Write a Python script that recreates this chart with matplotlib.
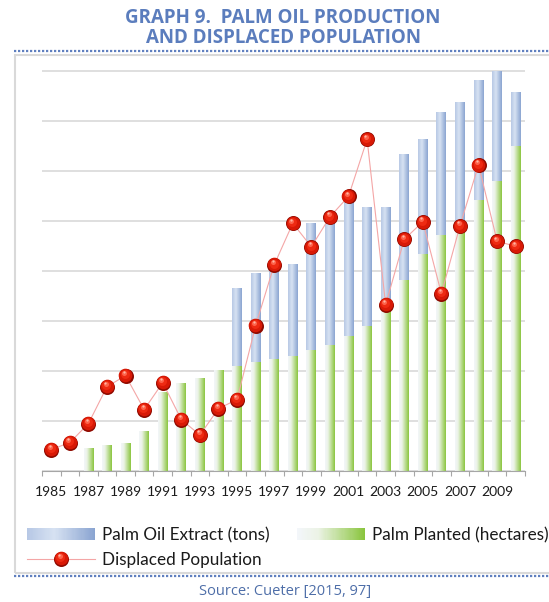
import numpy as np
import matplotlib
matplotlib.use("Agg")
import matplotlib.pyplot as plt
from matplotlib.patches import Rectangle
from matplotlib.lines import Line2D
from matplotlib.legend_handler import HandlerBase
from matplotlib.transforms import offset_copy

# ---- data ----
years = list(range(1985, 2011))
palm_oil_extract = [0, 0, 0, 0, 0, 0, 0, 0, 0, 0,
                    3.65, 3.95, 4.2, 4.13, 4.95, 5.05, 5.4, 5.27, 5.27, 6.33,
                    6.63, 7.17, 7.37, 7.81, 8.0, 7.57]
palm_planted = [0, 0, 0.45, 0.51, 0.55, 0.79, 1.57, 1.75, 1.85, 2.01,
                2.09, 2.17, 2.23, 2.29, 2.41, 2.51, 2.69, 2.90, 3.25, 3.82,
                4.33, 4.71, 4.78, 5.42, 5.79, 6.49]
displaced = [0.42, 0.56, 0.94, 1.68, 1.90, 1.22, 1.76, 1.02, 0.71, 1.24,
             1.42, 2.90, 4.12, 4.95, 4.48, 5.08, 5.49, 6.63, 3.32, 4.63,
             4.98, 3.54, 4.90, 6.12, 4.59, 4.49]
tick_years = [str(y) for y in years[::2]]

# ---- styles ----
BLUE_STOPS = [(0.0, (183, 200, 229)), (0.4, (215, 226, 242)), (1.0, (138, 164, 209))]
GREEN_STOPS = [(0.0, (243, 246, 250)), (0.3, (236, 243, 230)), (1.0, (138, 197, 62))]
LINE_COLOR = "#f4a6a6"
TITLE_COLOR = "#5b7dbd"
FRAME_COLOR = "#d9d9d9"
DOT_COLOR = "#5f7fbf"
# sphere marker layers: (diameter pt, colour, dx pt, dy pt, alpha)
SPHERE = [(10.8, "#8e0a00", 0, 0, 1.0),
          (9.8, "#d81906", -0.1, 0.2, 1.0),
          (6.5, "#ee2a12", -0.5, 0.9, 1.0),
          (3.6, "#ff6a52", -1.0, 2.0, 0.9),
          (1.6, "#ffc0b0", -1.2, 2.7, 0.9)]


def gradient_colors(stops, n):
    pos = np.linspace(0, 1, n)
    xs = [s[0] for s in stops]
    rgb = np.array([s[1] for s in stops]) / 255.0
    return np.stack([np.interp(pos, xs, rgb[:, c]) for c in range(3)], axis=1)


def fill_gradient(ax, bars, stops, zorder):
    grad = gradient_colors(stops, 256)[None, :, :]
    for b in bars:
        h = b.get_height()
        if h <= 0:
            continue
        x, w = b.get_x(), b.get_width()
        im = ax.imshow(grad, extent=(x, x + w, 0, h), aspect="auto",
                       interpolation="bilinear", zorder=zorder)
        im.set_clip_path(b)
        b.set_facecolor("none")


class GradientHandler(HandlerBase):
    def __init__(self, stops, n=60):
        super().__init__()
        self.stops = stops
        self.n = n

    def create_artists(self, legend, orig_handle, xdescent, ydescent,
                       width, height, fontsize, trans):
        cols = gradient_colors(self.stops, self.n)
        step = width / self.n
        return [Rectangle((-xdescent + i * step, -ydescent), step * 1.1, height,
                          facecolor=c, edgecolor="none", transform=trans)
                for i, c in enumerate(cols)]


class SphereHandler(HandlerBase):
    def create_artists(self, legend, orig_handle, xdescent, ydescent,
                       width, height, fontsize, trans):
        y = -ydescent + height / 2
        x0 = -xdescent
        xc = x0 + width / 2
        arts = [Line2D([x0, x0 + width], [y, y], color=LINE_COLOR, lw=0.8,
                       transform=trans)]
        for size, col, dx, dy, a in SPHERE:
            arts.append(Line2D([xc + dx], [y + dy], marker="o", markersize=size,
                               markerfacecolor=col, markeredgecolor="none",
                               alpha=a, linestyle="none", transform=trans))
        return arts


W, H = 549, 602
fig = plt.figure(figsize=(W / 100, H / 100), dpi=100)
fig.patch.set_facecolor("white")

# frame and dotted rules
fig.add_artist(Rectangle((15 / W, 1 - 573 / H), 600 / W, (573 - 55) / H,
                         transform=fig.transFigure, fill=False,
                         edgecolor=FRAME_COLOR, lw=1.5))
for yp in (51, 576):
    fig.add_artist(Line2D([14 / W, 1], [1 - yp / H] * 2, transform=fig.transFigure,
                          color=DOT_COLOR, lw=1.6, linestyle=(0, (1, 0.8))))

fig.text(283 / W, 1 - 18 / H, "GRAPH 9.  PALM OIL PRODUCTION", ha="center",
         va="center", fontsize=13.5, fontweight="bold", color=TITLE_COLOR,
         family="Open Sans")
fig.text(283 / W, 1 - 38 / H, "AND DISPLACED POPULATION", ha="center",
         va="center", fontsize=13.5, fontweight="bold", color=TITLE_COLOR,
         family="Open Sans")
fig.text(285 / W, 1 - 592 / H, "Source: Cueter [2015, 97]", ha="center",
         va="center", fontsize=10.5, color="#4e6ea8", family="Open Sans")

ax = fig.add_axes([42 / W, 1 - 470.5 / H, (525 - 42) / W, (470.5 - 70) / H])
x = np.arange(len(years))

blue_bars = ax.bar(x, palm_oil_extract, width=0.53, zorder=2, edgecolor="none")
green_bars = ax.bar(x, palm_planted, width=0.53, zorder=3, edgecolor="none")
fill_gradient(ax, blue_bars, BLUE_STOPS, 2)
fill_gradient(ax, green_bars, GREEN_STOPS, 3)

ax.plot(x, displaced, color=LINE_COLOR, lw=0.8, zorder=4)
for size, col, dx, dy, a in SPHERE:
    tr = offset_copy(ax.transData, fig=fig, x=dx, y=dy, units="points")
    ax.plot(x, displaced, "o", ms=size, mfc=col, mec="none", alpha=a,
            transform=tr, zorder=5)

ax.set_xlim(-0.5, len(years) - 0.5)
ax.set_ylim(0, 8.02)
ax.set_yticks(range(0, 9))
ax.yaxis.grid(True, color=FRAME_COLOR, lw=1.2)
ax.set_axisbelow(True)
ax.tick_params(axis="y", length=0, labelleft=False)

ax.set_xticks(x[::2], tick_years)
ax.set_xticks(np.arange(-0.5, len(years)), minor=True)
ax.tick_params(axis="x", which="major", length=0, pad=11, labelsize=10,
               labelcolor="#1a1a1a")
ax.tick_params(axis="x", which="minor", length=3.6, width=0.8, color="#a6a6a6")
for lab in ax.get_xticklabels():
    lab.set_family("Lato")
for s in ("top", "left", "right"):
    ax.spines[s].set_visible(False)
ax.spines["bottom"].set_color("#a6a6a6")
ax.spines["bottom"].set_zorder(6)

h_blue = Rectangle((0, 0), 1, 1)
h_green = Rectangle((0, 0), 1, 1)
h_disp = Line2D([], [])
leg = fig.legend([h_blue, h_disp, h_green],
                 ["Palm Oil Extract (tons)", "Displaced Population",
                  "Palm Planted (hectares)"],
                 handler_map={h_blue: GradientHandler(BLUE_STOPS),
                              h_green: GradientHandler(GREEN_STOPS),
                              h_disp: SphereHandler()},
                 ncol=2, loc="upper left", bbox_to_anchor=(27 / W, 1 - 527 / H),
                 bbox_transform=fig.transFigure, frameon=False, borderpad=0,
                 borderaxespad=0, handlelength=3.98, handleheight=0.7,
                 handletextpad=0.4, columnspacing=1.62, labelspacing=0.5,
                 prop={"family": "Lato", "size": 12.3})
for t in leg.get_texts():
    t.set_color("#1a1a1a")

fig.savefig("out.png", dpi=100)
